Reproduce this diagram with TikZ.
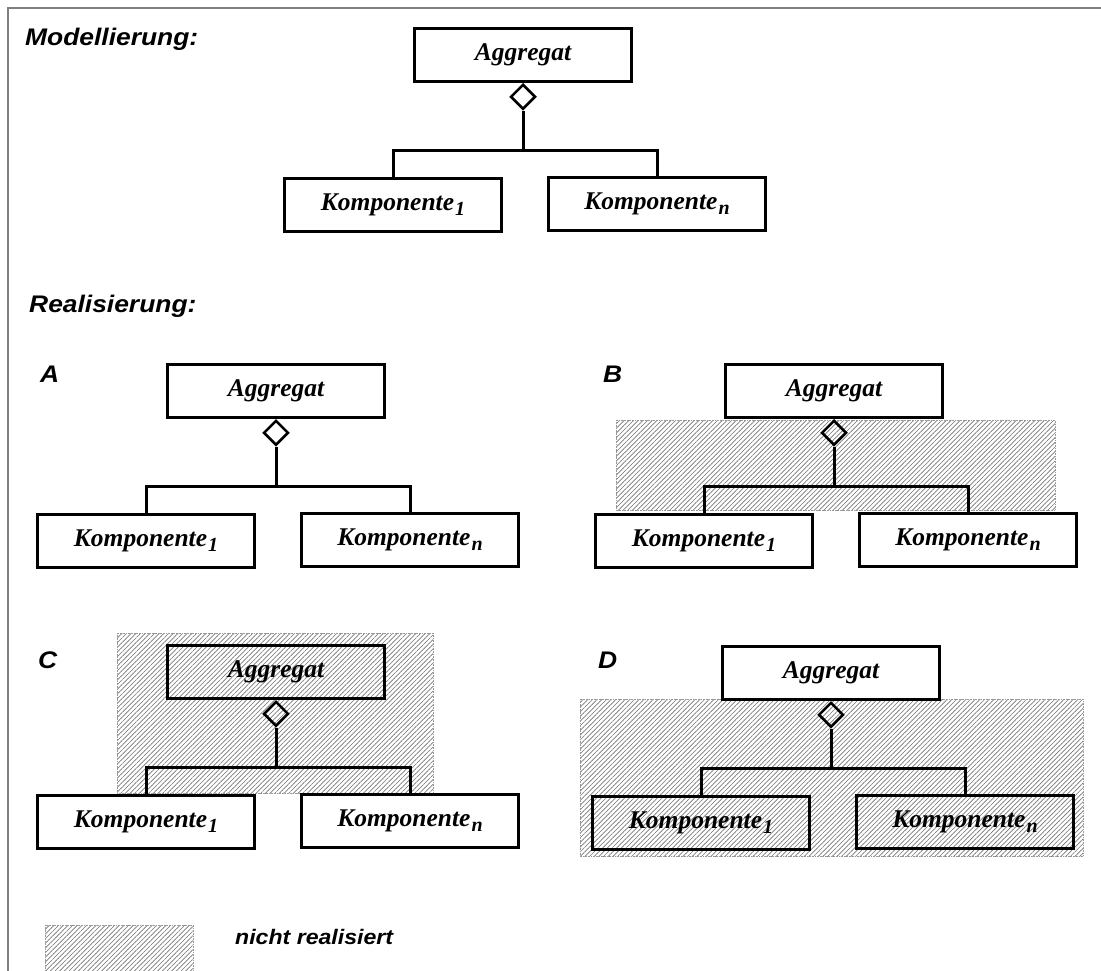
\documentclass[tikz,border=0pt]{standalone}
\usepackage{fontspec}
\setmainfont{Liberation Serif}
\newfontfamily\headfont[FakeStretch=1.1]{Liberation Sans}
\usetikzlibrary{shapes.geometric,patterns.meta}

\tikzset{
  umlbox/.style={draw, line width=3pt, minimum width=217pt, minimum height=53pt,
    inner sep=0pt, font=\fontsize{25.5}{25.5}\selectfont\bfseries\itshape},
  aggdia/.style={draw, diamond, line width=2.6pt, minimum width=25pt,
    minimum height=25pt, inner sep=0pt, anchor=north},
  link/.style={draw, line width=3pt, line join=miter},
  hatch/.style={pattern={Lines[angle=45,distance=3.3pt,line width=0.65pt]},
    pattern color=black!55},
  hatchedge/.style={draw=black!40, densely dotted, line width=0.6pt},
  heading/.style={anchor=base west, inner sep=0pt,
    font=\headfont\fontsize{24}{24}\selectfont\bfseries\itshape},
  legendtext/.style={anchor=base west, inner sep=0pt,
    font=\headfont\fontsize{21}{21}\selectfont\bfseries\itshape},
  frame/.style={draw=black!50, line width=2pt},
}

% lowered index after "Komponente"
\newcommand{\idx}[1]{\kern1pt\raisebox{-5pt}{\fontsize{20}{20}\selectfont #1}}

% aggregate with two components: prefix, centre x, top y
\newcommand{\aggtree}[3]{%
  \node[umlbox] (#1agg) at ({#2},{#3+28}) {Aggregat};
  \node[aggdia] (#1dia) at (#1agg.south) {};
  \coordinate (#1bar) at ({#2},{#3+123});
  \node[umlbox] (#1ka) at ({#2-130},{#3+178}) {Komponente\idx{1}};
  \node[umlbox] (#1kn) at ({#2+134},{#3+176.5}) {Komponente\idx{n}};
  \draw[link] (#1dia.south) -- (#1bar);
  \draw[link] (#1ka.north) |- (#1bar) -| (#1kn.north);
}

\begin{document}
\begin{tikzpicture}[x=1pt, y=-1pt]
  \useasboundingbox (0,0) rectangle (1101,970);

  % page frame
  \draw[frame] (8,975) -- (8,8) -- (1106,8);

  % areas that are not realised
  \fill[hatch] (616,420) rectangle (1055,510);
  \draw[hatchedge] (616,420) rectangle (1055,510);
  \fill[hatch] (117,633) rectangle (433,793);
  \draw[hatchedge] (117,633) rectangle (433,793);
  \fill[hatch] (580,699) rectangle (1083,856);
  \draw[hatchedge] (580,699) rectangle (1083,856);
  \fill[hatch] (45,925) rectangle (193,980);
  \draw[hatchedge] (45,925) rectangle (193,980);

  % headings
  \node[heading] (hmod) at (25,45) {Modellierung:};
  \node[heading] (hreal) at (29,312) {Realisierung:};
  \node[heading] (la) at (40,382) {A};
  \node[heading] (lb) at (603,382) {B};
  \node[heading] (lc) at (38,668) {C};
  \node[heading] (ld) at (598,668) {D};

  % diagrams
  \aggtree{m}{523}{27}
  \aggtree{a}{276}{363}
  \aggtree{b}{834}{363}
  \aggtree{c}{276}{644}
  \aggtree{d}{831}{645}

  % legend
  \node[legendtext] (leg) at (235,944) {nicht realisiert};
\end{tikzpicture}
\end{document}
